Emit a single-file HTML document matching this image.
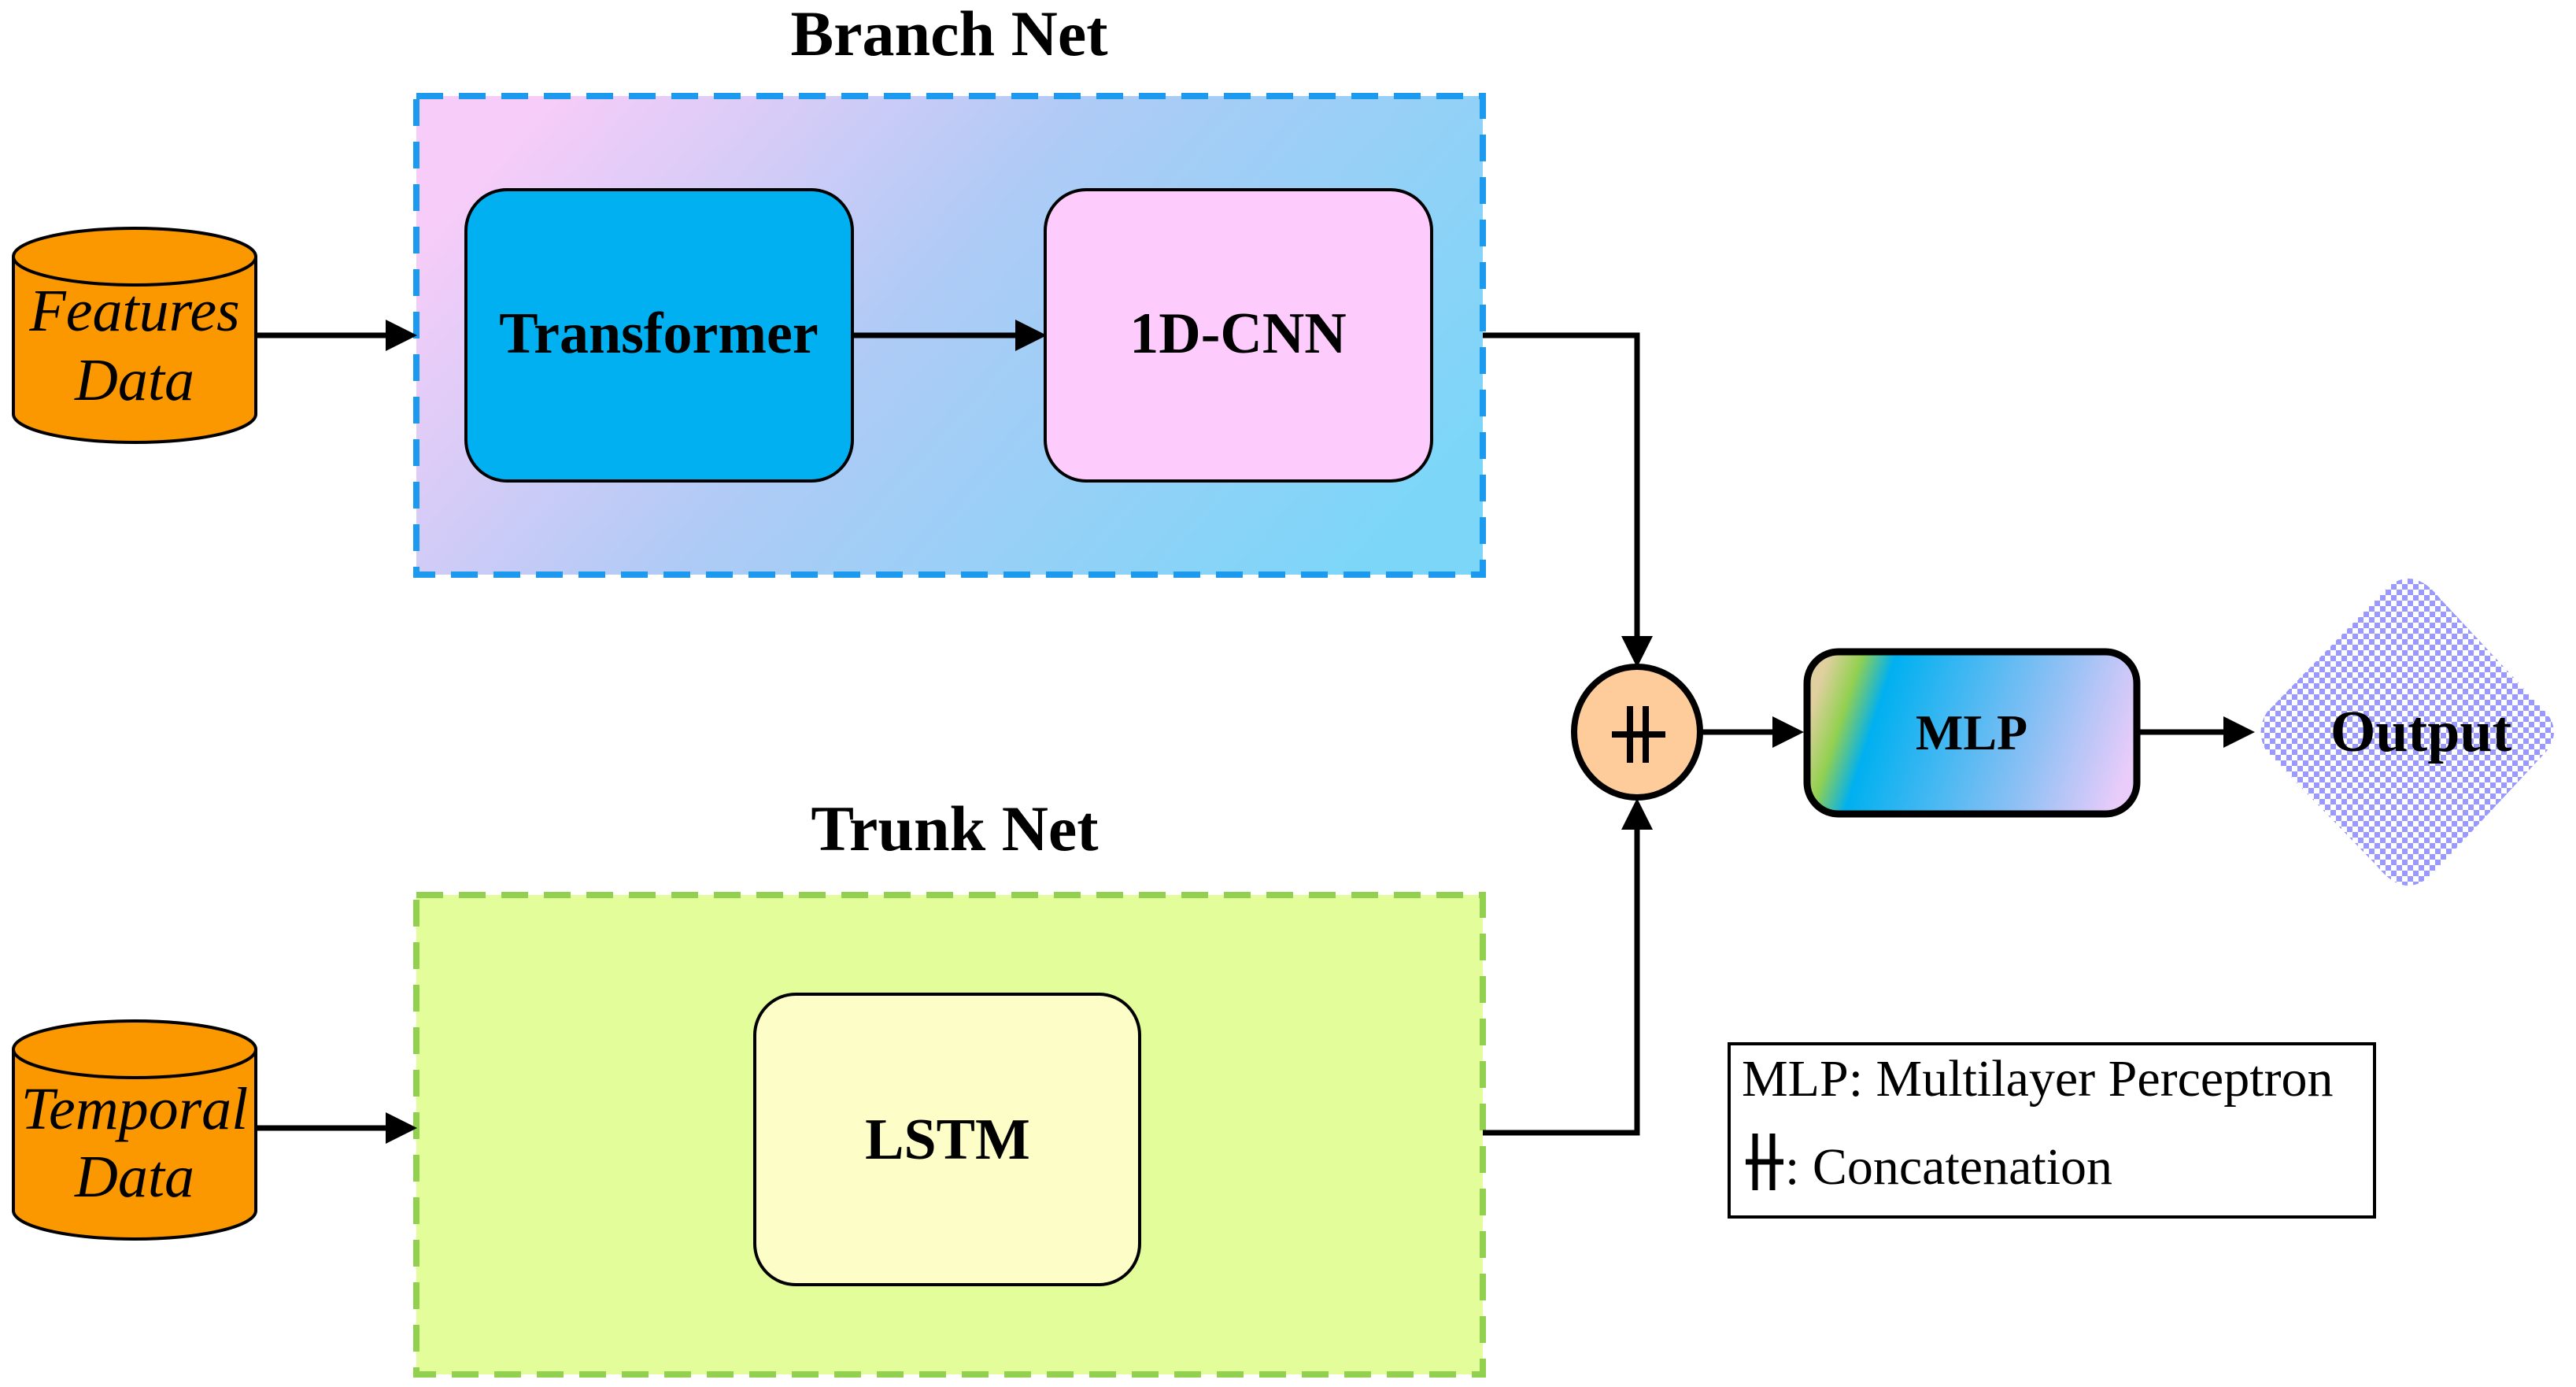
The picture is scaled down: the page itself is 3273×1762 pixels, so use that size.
<!DOCTYPE html>
<html><head><meta charset="utf-8"><style>
html,body{margin:0;padding:0;background:#fff;}
svg{display:block;}
text{font-family:"Liberation Serif",serif;}
</style></head><body>
<svg width="3273" height="1762" viewBox="0 0 3273 1762" xmlns="http://www.w3.org/2000/svg">
<defs>
<linearGradient id="gb" x1="0" y1="0.3" x2="1" y2="0.7">
<stop offset="0" stop-color="#f8ccf8"/><stop offset="0.45" stop-color="#aecbf6"/><stop offset="1" stop-color="#7cd6f8"/>
</linearGradient>
<linearGradient id="gm" x1="0" y1="0.42" x2="1" y2="0.58">
<stop offset="0" stop-color="#e0d0a0"/><stop offset="0.1" stop-color="#92d050"/><stop offset="0.2" stop-color="#00b0f0"/><stop offset="0.7" stop-color="#8ec0f4"/><stop offset="1" stop-color="#eaccfa"/>
</linearGradient>
<pattern id="chk" width="14" height="14" patternUnits="userSpaceOnUse">
<rect width="14" height="14" fill="#fff"/><rect width="7" height="7" fill="#9999ff"/><rect x="7" y="7" width="7" height="7" fill="#9999ff"/>
</pattern>
</defs>

<text x="1206" y="70" font-size="82" font-weight="bold" text-anchor="middle">Branch Net</text>
<text x="1213" y="1080" font-size="82" font-weight="bold" text-anchor="middle">Trunk Net</text>

<rect x="529" y="122" width="1355" height="608" fill="url(#gb)" stroke="#1b9af0" stroke-width="8" stroke-dasharray="34,20"/>
<rect x="529" y="1137" width="1355" height="609" fill="#e3fd9a" stroke="#92d050" stroke-width="8" stroke-dasharray="34,20"/>

<rect x="592" y="241" width="491" height="370" rx="52" fill="#00b0f0" stroke="#000" stroke-width="4"/>
<text x="837" y="448" font-size="74" font-weight="bold" text-anchor="middle">Transformer</text>
<rect x="1328" y="241" width="491" height="370" rx="52" fill="#fdccfd" stroke="#000" stroke-width="4"/>
<text x="1573" y="448" font-size="74" font-weight="bold" text-anchor="middle">1D-CNN</text>
<rect x="959" y="1263" width="489" height="369" rx="52" fill="#fdfdc8" stroke="#000" stroke-width="4"/>
<text x="1204" y="1472" font-size="74" font-weight="bold" text-anchor="middle">LSTM</text>

<g stroke="#000" stroke-width="4" fill="#fb9800">
<path d="M17 326 L17 526 A154 36 0 0 0 325 526 L325 326"/>
<ellipse cx="171" cy="326" rx="154" ry="36"/>
<path d="M17 1333 L17 1538 A154 36 0 0 0 325 1538 L325 1333"/>
<ellipse cx="171" cy="1333" rx="154" ry="36"/>
</g>
<text x="171" y="420" font-size="76" font-style="italic" text-anchor="middle">Features</text>
<text x="171" y="508" font-size="76" font-style="italic" text-anchor="middle">Data</text>
<text x="171" y="1434" font-size="76" font-style="italic" text-anchor="middle">Temporal</text>
<text x="171" y="1520" font-size="76" font-style="italic" text-anchor="middle">Data</text>

<g stroke="#000" stroke-width="7" fill="none">
<line x1="325" y1="426" x2="495" y2="426"/>
<line x1="1083" y1="426" x2="1295" y2="426"/>
<polyline points="1884,426 2080,426 2080,810"/>
<line x1="325" y1="1433" x2="495" y2="1433"/>
<polyline points="1884,1439 2080,1439 2080,1050"/>
<line x1="2162" y1="930" x2="2260" y2="930"/>
<line x1="2715" y1="930" x2="2835" y2="930"/>
</g>
<g fill="#000">
<polygon points="490,406 530,426 490,446"/>
<polygon points="1290,406 1330,426 1290,446"/>
<polygon points="2060,808 2080,848 2100,808"/>
<polygon points="490,1413 530,1433 490,1453"/>
<polygon points="2060,1054 2080,1014 2100,1054"/>
<polygon points="2252,910 2292,930 2252,950"/>
<polygon points="2825,910 2865,930 2825,950"/>
</g>

<ellipse cx="2080" cy="930" rx="80" ry="83" fill="#fdcc9a" stroke="#000" stroke-width="8"/>
<g stroke="#000" stroke-width="8">
<line x1="2071" y1="897" x2="2071" y2="969"/>
<line x1="2091" y1="897" x2="2091" y2="969"/>
<line x1="2048" y1="933" x2="2116" y2="933"/>
</g>

<rect x="2296" y="828" width="419" height="206" rx="40" fill="url(#gm)" stroke="#000" stroke-width="9"/>
<text x="2505" y="952" font-size="64" font-weight="bold" text-anchor="middle">MLP</text>

<path d="M3060 735 Q3080 735 3100 760 L3235 905 Q3255 930 3235 955 L3100 1100 Q3080 1125 3060 1125 Q3040 1125 3020 1100 L2880 955 Q2865 930 2880 905 L3020 760 Q3040 735 3060 735 Z" fill="url(#chk)"/>
<text x="3076" y="954" font-size="74" font-weight="bold" text-anchor="middle">Output</text>

<rect x="2197" y="1326" width="820" height="220" fill="#fff" stroke="#000" stroke-width="4"/>
<text x="2213" y="1392" font-size="66">MLP: Multilayer Perceptron</text>
<g stroke="#000" stroke-width="7">
<line x1="2230" y1="1440" x2="2230" y2="1512"/>
<line x1="2252" y1="1440" x2="2252" y2="1512"/>
<line x1="2218" y1="1476" x2="2266" y2="1476"/>
</g>
<text x="2268" y="1504" font-size="66">: Concatenation</text>
</svg>
</body></html>
